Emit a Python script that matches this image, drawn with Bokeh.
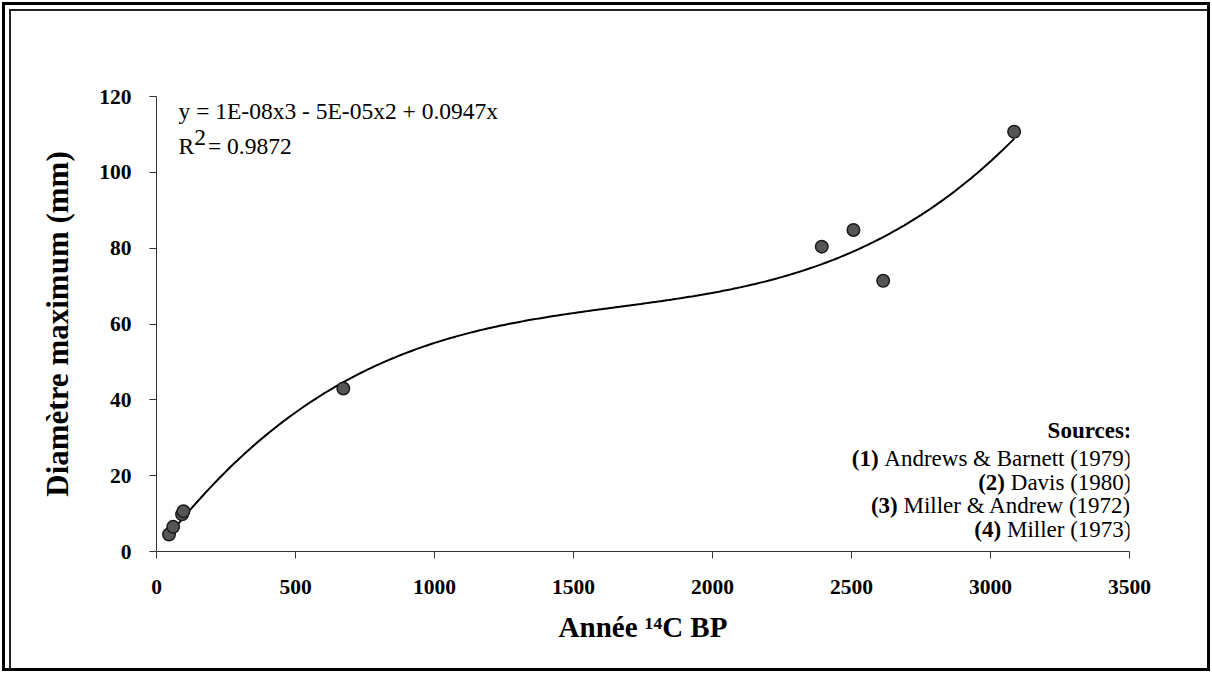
import numpy as np
from bokeh.plotting import figure
from bokeh.models import Range1d, FixedTicker, Label, InlineStyleSheet
from bokeh.embed import file_html
from bokeh.resources import INLINE

# ---- data ----
years = [45, 60, 92, 97, 672, 2393, 2507, 2614, 3085]
diam = [4.5, 6.5, 9.8, 10.6, 43.0, 80.4, 84.8, 71.4, 110.7]
x_ticks = [0, 500, 1000, 1500, 2000, 2500, 3000, 3500]
y_ticks = [0, 20, 40, 60, 80, 100, 120]
equation = "y = 1E-08x3 - 5E-05x2 + 0.0947x"
r2_value = "= 0.9872"
sources_title = "Sources:"
source_nums = ["(1)", "(2)", "(3)", "(4)"]
source_names = ["Andrews & Barnett (1979)", "Davis (1980)", "Miller & Andrew (1972)", "Miller (1973)"]

# ---- third-order polynomial trendline through the origin (least squares, like Excel) ----
xa = np.array(years, dtype=float)
ya = np.array(diam, dtype=float)
A = np.column_stack([xa ** 3, xa ** 2, xa])
coef, *_ = np.linalg.lstsq(A, ya, rcond=None)
xc = np.linspace(xa.min(), xa.max(), 300)
yc = coef[0] * xc ** 3 + coef[1] * xc ** 2 + coef[2] * xc

W, H = 1212, 673
L, R, T, B = 156, 1129, 96, 551
XMAX, YMAX = 3500, 120

def dx(px):
    return (px - L) / (R - L) * XMAX

def dy(py):
    return (B - py) / (B - T) * YMAX

p = figure(width=W, height=H, x_range=Range1d(0, XMAX), y_range=Range1d(0, YMAX),
           output_backend="svg", toolbar_location=None,
           min_border_left=L, min_border_right=W - R, min_border_top=T, min_border_bottom=H - B)
p.xgrid.visible = False
p.ygrid.visible = False
p.outline_line_color = None
p.background_fill_color = "white"
p.border_fill_color = "white"

FONT = "Liberation Serif"
for ax, ticks in ((p.xaxis, x_ticks), (p.yaxis, y_ticks)):
    ax.ticker = FixedTicker(ticks=ticks)
    ax.major_tick_in = 0
    ax.major_tick_out = 7
    ax.minor_tick_in = 0
    ax.minor_tick_out = 0
    ax.axis_line_color = "#333333"
    ax.major_tick_line_color = "#333333"
    ax.major_label_text_font = FONT
    ax.major_label_text_font_style = "bold"
    ax.major_label_text_font_size = "21.5px"
    ax.major_label_text_color = "black"
    ax.axis_label_text_font = FONT
    ax.axis_label_text_font_style = "bold"
    ax.axis_label_text_color = "black"

p.xaxis.axis_label = "Année ¹⁴C BP"
p.yaxis.axis_label = "Diamètre maximum (mm)"
p.xaxis.axis_label_text_font_size = "29px"
p.yaxis.axis_label_text_font_size = "31px"
p.xaxis.major_label_standoff = 21
p.yaxis.major_label_standoff = 18
p.xaxis.axis_label_standoff = 14
p.yaxis.axis_label_standoff = 21

# trendline and points
p.line(xc, yc, line_color="black", line_width=2)
p.scatter(years, diam, size=12.5, fill_color="#555555", line_color="#1a1a1a", line_width=1.5)

# equation and R²
EQ = 23.5
EQ_SIZE = f"{EQ}px"
def lab(px, py, text, **kw):
    p.add_layout(Label(x=dx(px), y=dy(py), text=text, text_font=FONT, text_color="black",
                       text_baseline="alphabetic", **kw))

lab(178, 110, equation, text_font_size=EQ_SIZE)
lab(178, 145, "R", text_font_size=EQ_SIZE)
lab(178 + 0.667 * EQ, 137, "2", text_font_size=EQ_SIZE)
lab(178 + 0.667 * EQ + 0.5 * EQ + 2, 145, r2_value, text_font_size=EQ_SIZE)

# sources block (right aligned)
SRC = 23
TNR = {" ": 250, "&": 778, "(": 333, ")": 333, "A": 722, "B": 667, "D": 722, "M": 889,
       "a": 444, "d": 500, "e": 444, "i": 278, "l": 278, "n": 500, "r": 333, "s": 389,
       "t": 278, "v": 500, "w": 722}

def width(s, size):
    return sum(TNR.get(c, 500) for c in s) * size / 1000.0

RX = 1131
lab(RX, 430, sources_title, text_font_style="bold", text_font_size=f"{SRC}px", text_align="right")
base = [458, 482, 505, 529]
for num, name, by in zip(source_nums, source_names, base):
    lab(RX, by, name, text_font_size=f"{SRC}px", text_align="right")
    lab(RX - width(" " + name, SRC), by, num, text_font_style="bold",
        text_font_size=f"{SRC}px", text_align="right")

# double page frame drawn around the whole chart (thick outer line, thin inner line)
p.styles = {"position": "relative"}
p.stylesheets = [InlineStyleSheet(css=(
    ":host::before{content:'';position:absolute;left:2px;top:2px;right:2px;bottom:2px;"
    "border:3.5px solid black;pointer-events:none;z-index:10;}"
    ":host::after{content:'';position:absolute;left:9px;top:9px;right:4px;bottom:4px;"
    "border-left:2px solid #222;border-top:2px solid #222;pointer-events:none;z-index:11;}"))]

open("out.html", "w").write(file_html(p, INLINE))
